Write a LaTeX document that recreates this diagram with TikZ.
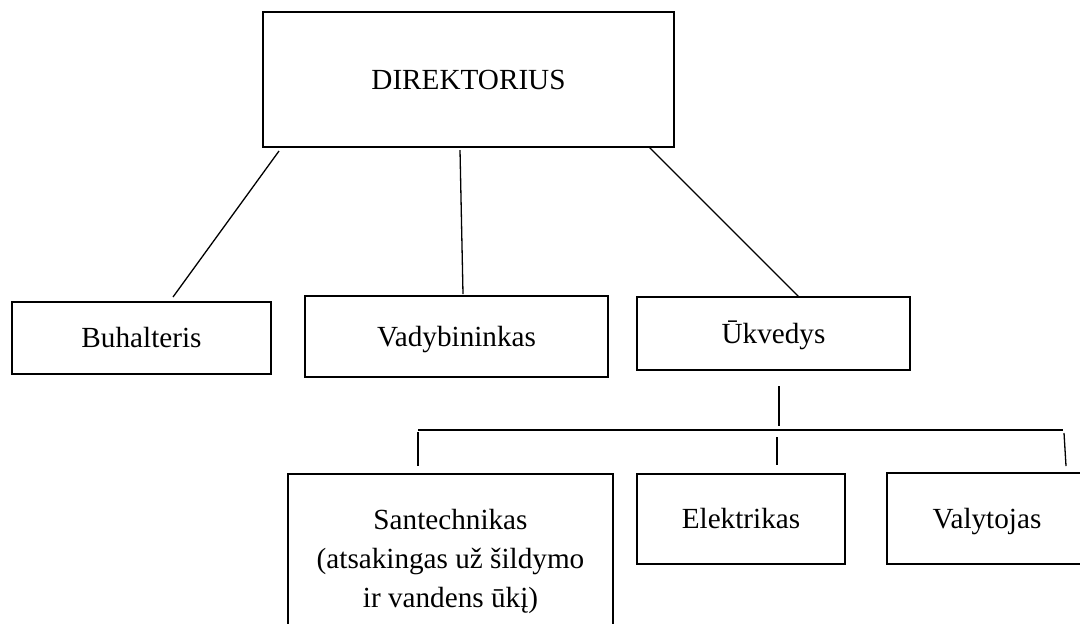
\documentclass[tikz,border=0pt]{standalone}
\usepackage{fontspec}
\setmainfont{Liberation Serif}
\usepackage{tikz}
\usetikzlibrary{positioning}
\tikzset{
    box/.style={draw, rectangle, line width=0.6pt, anchor=north west,
        inner sep=0pt, outer sep=0pt, align=center,
        font=\fontsize{14.6}{19.5}\selectfont},
    oneline/.style={box, text height=13pt, text depth=3.4pt},
    link/.style={line width=0.65pt}
}

\begin{document}
\begin{tikzpicture}[x=0.5pt, y=-0.5pt]
        \path[use as bounding box, clip] (0,0) rectangle (1080,623);

        \node (dir) [oneline, minimum width=205.5pt, minimum height=67.5pt] at (263,12) {DIREKTORIUS};
        \node (buh) [oneline, minimum width=129.5pt, minimum height=36pt] at (12,302) {Buhalteris};
        \node (vad) [oneline, minimum width=151.5pt, minimum height=40.5pt] at (305,296) {Vadybininkas};
        \node (ukv) [oneline, minimum width=136.5pt, minimum height=36.5pt] at (637,297) {Ūkvedys};
        \node (san) [box, minimum width=162.5pt, minimum height=87pt] at (288,474)
            {Santechnikas\\(atsakingas už šildymo\\ir vandens ūkį)};
        \node (ele) [oneline, minimum width=104pt, minimum height=45pt] at (637,474) {Elektrikas};
        \node (val) [oneline, minimum width=100pt, minimum height=45.5pt] at (887,473) {Valytojas};

        \coordinate (busL) at (418,430);
        \coordinate (busR) at (1063,430);
        \coordinate (ukvdown) at (779,426);

        \draw[link]
            ([shift={(16,4)}]dir.south west) edge ([shift={(161,-5)}]buh.north west)
            ([shift={(197,3)}]dir.south west) edge ([shift={(158,-2)}]vad.north west)
            ([shift={(386,0)}]dir.south west) edge ([shift={(162,0)}]ukv.north west)
            ([shift={(142,16)}]ukv.south west) edge (ukvdown)
            (busL) edge (busR)
            ([shift={(0,2)}]busL) edge ([shift={(130,-8)}]san.north west)
            ([shift={(359,7)}]busL) edge ([shift={(140,-9)}]ele.north west)
            ([shift={(1,3)}]busR) edge ([shift={(179,-7)}]val.north west)
            ;
    \end{tikzpicture}
\end{document}
